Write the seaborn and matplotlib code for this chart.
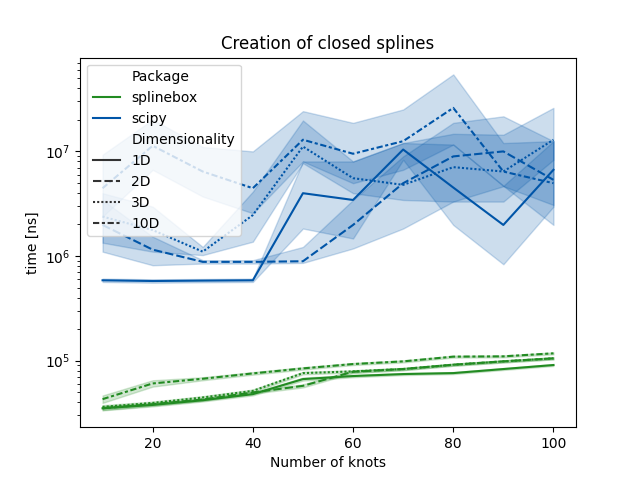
import numpy as np
import pandas as pd
import matplotlib
matplotlib.use("Agg")
import matplotlib.pyplot as plt
import seaborn as sns

knots = [10, 20, 30, 40, 50, 60, 70, 80, 90, 100]
packages = ["splinebox", "scipy"]
dims = ["1D", "2D", "3D", "10D"]

# median time [ns] and interval bounds, per package and dimensionality
splinebox_1d_mid = [3.51e4, 3.78e4, 4.19e4, 4.79e4, 6.67e4, 7.13e4, 7.45e4, 7.61e4, 8.32e4, 9.09e4]
splinebox_1d_lo = [3.35e4, 3.66e4, 4.08e4, 4.66e4, 6.45e4, 6.95e4, 7.28e4, 7.45e4, 8.15e4, 8.90e4]
splinebox_1d_hi = [3.68e4, 3.90e4, 4.30e4, 4.92e4, 6.90e4, 7.32e4, 7.62e4, 7.78e4, 8.50e4, 9.28e4]

splinebox_2d_mid = [3.51e4, 3.84e4, 4.26e4, 4.97e4, 5.75e4, 7.84e4, 8.32e4, 9.15e4, 9.85e4, 1.053e5]
splinebox_2d_lo = [3.38e4, 3.72e4, 4.14e4, 4.84e4, 5.55e4, 7.62e4, 8.12e4, 8.95e4, 9.62e4, 1.030e5]
splinebox_2d_hi = [3.64e4, 3.96e4, 4.38e4, 5.10e4, 5.95e4, 8.06e4, 8.52e4, 9.35e4, 1.008e5, 1.076e5]

splinebox_3d_mid = [3.62e4, 3.95e4, 4.45e4, 5.15e4, 7.61e4, 7.90e4, 8.32e4, 9.15e4, 9.85e4, 1.053e5]
splinebox_3d_lo = [3.48e4, 3.83e4, 4.32e4, 5.00e4, 7.40e4, 7.70e4, 8.12e4, 8.95e4, 9.62e4, 1.030e5]
splinebox_3d_hi = [3.76e4, 4.07e4, 4.58e4, 5.30e4, 7.82e4, 8.10e4, 8.52e4, 9.35e4, 1.008e5, 1.076e5]

splinebox_10d_mid = [4.29e4, 6.06e4, 6.72e4, 7.56e4, 8.44e4, 9.29e4, 9.85e4, 1.093e5, 1.100e5, 1.176e5]
splinebox_10d_lo = [3.95e4, 5.65e4, 6.50e4, 7.35e4, 8.22e4, 9.08e4, 9.62e4, 1.070e5, 1.077e5, 1.150e5]
splinebox_10d_hi = [4.65e4, 6.50e4, 6.95e4, 7.78e4, 8.66e4, 9.50e4, 1.008e5, 1.116e5, 1.123e5, 1.200e5]

scipy_1d_mid = [5.86e5, 5.77e5, 5.82e5, 5.86e5, 3.98e6, 3.43e6, 1.04e7, 4.51e6, 1.98e6, 6.66e6]
scipy_1d_lo = [5.65e5, 5.56e5, 5.61e5, 5.65e5, 1.83e6, 1.47e6, 8.30e6, 1.98e6, 8.34e5, 2.96e6]
scipy_1d_hi = [6.08e5, 5.99e5, 6.03e5, 6.08e5, 8.00e6, 8.00e6, 1.20e7, 1.16e7, 4.68e6, 1.25e7]

scipy_2d_mid = [1.98e6, 1.15e6, 8.79e5, 8.79e5, 8.91e5, 1.98e6, 4.96e6, 8.94e6, 9.98e6, 5.34e6]
scipy_2d_lo = [1.10e6, 8.16e5, 8.47e5, 8.47e5, 8.59e5, 1.18e6, 1.83e6, 3.31e6, 4.64e6, 3.07e6]
scipy_2d_hi = [3.43e6, 1.53e6, 9.12e5, 9.12e5, 1.22e6, 3.43e6, 8.94e6, 1.87e7, 2.16e7, 1.25e7]

scipy_3d_mid = [2.38e6, 1.77e6, 1.10e6, 2.46e6, 1.11e7, 5.54e6, 4.78e6, 7.06e6, 6.41e6, 1.29e7]
scipy_3d_lo = [1.34e6, 1.10e6, 1.02e6, 1.37e6, 7.71e6, 3.98e6, 3.43e6, 3.31e6, 3.31e6, 8.30e6]
scipy_3d_hi = [3.98e6, 2.96e6, 1.22e6, 4.12e6, 1.97e7, 8.00e6, 1.20e7, 1.47e7, 1.44e7, 2.60e7]

scipy_10d_mid = [4.44e6, 1.13e7, 6.41e6, 4.44e6, 1.29e7, 9.48e6, 1.25e7, 2.60e7, 6.41e6, 4.96e6]
scipy_10d_lo = [2.38e6, 6.66e6, 3.70e6, 2.56e6, 8.00e6, 4.96e6, 6.66e6, 1.16e7, 4.68e6, 1.98e6]
scipy_10d_hi = [9.27e6, 2.01e7, 1.10e7, 9.98e6, 2.42e7, 1.87e7, 2.51e7, 5.43e7, 1.20e7, 1.25e7]

series = {
    ("splinebox", "1D"): (splinebox_1d_lo, splinebox_1d_mid, splinebox_1d_hi),
    ("splinebox", "2D"): (splinebox_2d_lo, splinebox_2d_mid, splinebox_2d_hi),
    ("splinebox", "3D"): (splinebox_3d_lo, splinebox_3d_mid, splinebox_3d_hi),
    ("splinebox", "10D"): (splinebox_10d_lo, splinebox_10d_mid, splinebox_10d_hi),
    ("scipy", "1D"): (scipy_1d_lo, scipy_1d_mid, scipy_1d_hi),
    ("scipy", "2D"): (scipy_2d_lo, scipy_2d_mid, scipy_2d_hi),
    ("scipy", "3D"): (scipy_3d_lo, scipy_3d_mid, scipy_3d_hi),
    ("scipy", "10D"): (scipy_10d_lo, scipy_10d_mid, scipy_10d_hi),
}

rows = []
for (pkg, dim), arrays in series.items():
    for arr in arrays:
        for k, v in zip(knots, arr):
            rows.append({"Number of knots": k, "time [ns]": v,
                         "Package": pkg, "Dimensionality": dim})
df = pd.DataFrame(rows)

palette = {"splinebox": "#228B22", "scipy": "#0055A8"}

fig, ax = plt.subplots(figsize=(6.4, 4.8), dpi=100)
ax.set_yscale("log")
sns.lineplot(data=df, x="Number of knots", y="time [ns]",
             hue="Package", style="Dimensionality",
             hue_order=packages, style_order=dims,
             palette=palette, estimator="median",
             errorbar=("pi", 100), ax=ax)
ax.set_title("Creation of closed splines")
sns.move_legend(ax, "upper left")
fig.savefig("out.png", dpi=100)
